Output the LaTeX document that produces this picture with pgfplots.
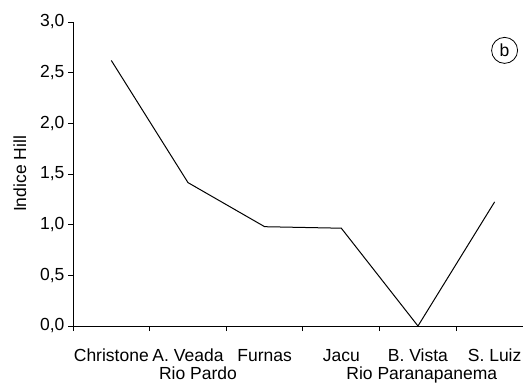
\documentclass[border=0pt]{standalone}
\usepackage{pgfplots}
\pgfplotsset{compat=1.18}
\usepackage{fontspec}
\setmainfont{Liberation Sans}
\newcommand{\chartfont}{\fontsize{17.5bp}{21bp}\selectfont}
\begin{document}
\begin{tikzpicture}[font=\chartfont]
\useasboundingbox (-73bp,-58bp) rectangle (450bp,304bp+22bp);
\begin{axis}[
  scale only axis,
  width=450bp, height=304bp,
  at={(0,0)}, anchor=south west,
  xmin=0, xmax=5.87, ymin=0, ymax=3,
  axis x line*=bottom, axis y line*=left,
  axis line style={line width=1bp, black},
  tick align=outside,
  xtick={0.5,1.5,2.5,3.5,4.5,5.5},
  xticklabels={Christone,A. Veada,Furnas,Jacu,B. Vista,S. Luiz},
  minor xtick={0,1,2,3,4,5},
  major x tick style={draw=none},
  minor tick length=5bp,
  major tick length=5bp,
  every tick/.style={black, line width=1bp},
  ytick={0,0.5,1,1.5,2,2.5,3},
  /pgf/number format/use comma,
  /pgf/number format/fixed,
  /pgf/number format/fixed zerofill,
  /pgf/number format/precision=1,
  /pgf/number format/assume math mode=true,
  tick label style={font=\chartfont},
  label style={font=\chartfont},
  yticklabel style={anchor=east},
  xticklabel style={anchor=base, yshift=-30bp, inner sep=0pt},
  ylabel={Indice Hill},
  ylabel style={at={(axis description cs:-0.118,0.5)}, anchor=center},
  clip=false,
]
\addplot[black, line width=1bp] coordinates {
  (0.5,2.62) (1.5,1.415) (2.5,0.98) (3.5,0.965) (4.5,0.0) (5.5,1.225)
};
\node[anchor=base, font=\chartfont] at (axis cs:1.63,0) [yshift=-53.5bp] {Rio Pardo};
\node[anchor=base, font=\chartfont] at (axis cs:4.55,0) [yshift=-53.5bp] {Rio Paranapanema};
\node[draw, circle, line width=0.8bp, inner sep=1bp, minimum size=26bp, font=\chartfont] at (axis cs:5.63,2.72) {b};
\end{axis}
\end{tikzpicture}
\end{document}
